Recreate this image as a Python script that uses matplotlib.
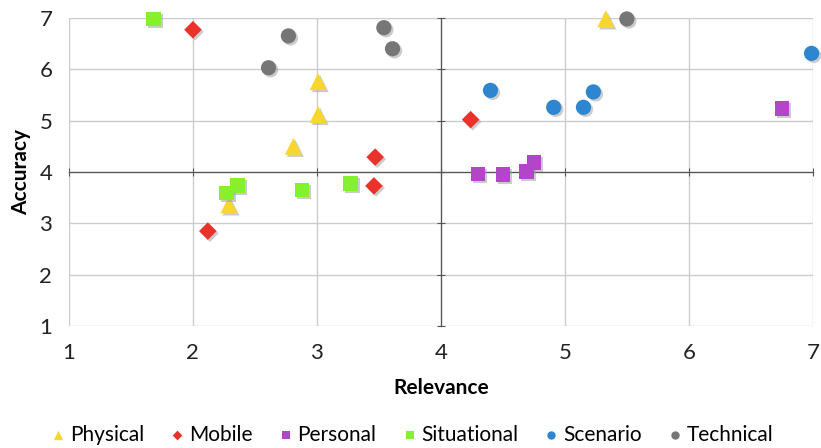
import matplotlib.pyplot as plt
import matplotlib.patheffects as pe

plt.rcParams['font.family'] = ['Lato', 'DejaVu Sans']

# data (relevance, accuracy)
physical_x = [3.01, 3.01, 2.81, 2.29, 5.33]
physical_y = [5.76, 5.12, 4.50, 3.36, 6.98]
mobile_x = [2.00, 2.12, 3.47, 3.46, 4.24]
mobile_y = [6.77, 2.85, 4.29, 3.73, 5.02]
personal_x = [4.30, 4.50, 4.69, 4.75, 6.75]
personal_y = [3.96, 3.95, 4.01, 4.19, 5.24]
situational_x = [1.68, 2.27, 2.36, 2.88, 3.27]
situational_y = [6.98, 3.59, 3.74, 3.65, 3.78]
scenario_x = [4.40, 4.91, 5.15, 5.23, 6.99]
scenario_y = [5.59, 5.26, 5.26, 5.56, 6.31]
technical_x = [2.61, 2.77, 3.54, 3.61, 5.50]
technical_y = [6.03, 6.65, 6.81, 6.40, 6.98]

series = [
    ('Physical', physical_x, physical_y, '^', '#F9D62E', 150),
    ('Mobile', mobile_x, mobile_y, 'D', '#E8322A', 80),
    ('Personal', personal_x, personal_y, 's', '#B146C8', 110),
    ('Situational', situational_x, situational_y, 's', '#85F02B', 110),
    ('Scenario', scenario_x, scenario_y, 'o', '#2E86D1', 120),
    ('Technical', technical_x, technical_y, 'o', '#767676', 120),
]

fig = plt.figure(figsize=(8.21, 4.48), dpi=100)
pos = [0.084, 0.272, 0.906, 0.688]
ax = fig.add_axes(pos)

shadow = [pe.SimplePatchShadow(offset=(1.5, -1.5), shadow_rgbFace='#999999', alpha=0.5), pe.Normal()]
for name, xs, ys, m, c, s in series:
    sc = ax.scatter(xs, ys, marker=m, color=c, s=s, label=name, zorder=3,
                    clip_on=False, linewidths=0)
    sc.set_path_effects(shadow)

ax.set_xlim(1, 7)
ax.set_ylim(1, 7)
ax.set_xticks(range(1, 8))
ax.set_yticks(range(1, 8))
ax.grid(True, color='#cccccc', linewidth=1)
ax.set_axisbelow(True)
for side in ['top', 'right']:
    ax.spines[side].set_visible(False)
for side in ['left', 'bottom']:
    ax.spines[side].set_position(('data', 4))
    ax.spines[side].set_color('#555555')
    ax.spines[side].set_linewidth(0.9)
ax.tick_params(direction='inout', length=6, color='#555555',
               labelleft=False, labelbottom=False)

# overlay axes carrying the tick labels at the outer edges
ax2 = fig.add_axes(pos, sharex=ax, sharey=ax, frameon=False)
ax2.patch.set_alpha(0)
ax2.tick_params(length=0, labelsize=16, pad=12, colors='#222222')
ax2.set_xlabel('Relevance', fontsize=15, fontweight='bold', labelpad=11)
ax2.set_ylabel('Accuracy', fontsize=15, fontweight='bold', labelpad=6)

h, l = ax.get_legend_handles_labels()
leg = fig.legend(h, l, loc='lower center', bbox_to_anchor=(0.5, -0.035), ncol=6,
                 frameon=False, fontsize=15, markerscale=0.55, handletextpad=0.05,
                 columnspacing=1.1, handlelength=1.0)
for hd in leg.legend_handles:
    hd.set_path_effects([])

fig.savefig('out.png', dpi=100)
